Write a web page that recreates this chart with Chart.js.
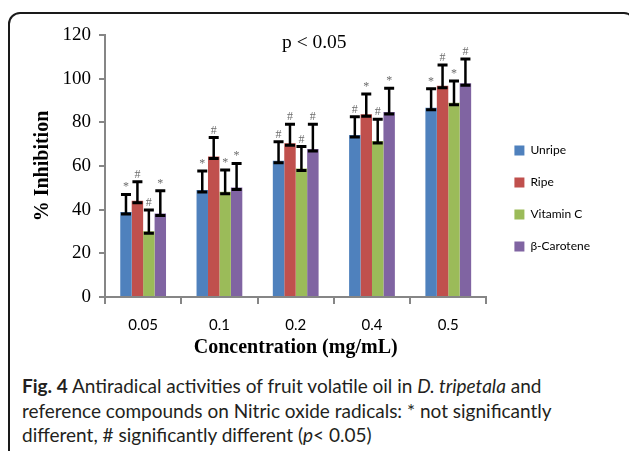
<!DOCTYPE html>
<html>
<head>
<meta charset="utf-8">
<script src="https://cdn.jsdelivr.net/npm/chart.js@4/dist/chart.umd.min.js"></script>
<style>
  html, body { margin: 0; padding: 0; background: #fff; width: 629px; height: 451px; overflow: hidden; }
  #frame { position: absolute; left: 8px; top: 12px; width: 624px; height: 470px; border: 2px solid #1a1a1a; border-radius: 12px; }
  #chart { position: absolute; left: 0; top: 0; }
  #ptext { position: absolute; left: 282px; top: 31px; font: 19.5px "Liberation Serif", serif; color: #000; }
  #caption { position: absolute; left: 22px; top: 374px; font: 19px Lato, sans-serif; line-height: 24.5px; color: #231f20; white-space: nowrap; }
</style>
</head>
<body>
<div id="frame"></div>
<canvas id="chart" width="629" height="366"></canvas>
<div id="ptext">p &lt; 0.05</div>
<div id="caption"><b>Fig. 4</b> Antiradical activities of fruit volatile oil in <i>D. tripetala</i> and<br>reference compounds on Nitric oxide radicals: * not significantly<br>different, # significantly different (<i>p</i>&lt; 0.05)</div>
<script>
const concentrations = ['0.05', '0.1', '0.2', '0.4', '0.5'];

const unripe = [38.9, 49.0, 62.4, 74.2, 86.7];
const ripe = [44.1, 64.3, 70.4, 83.7, 96.7];
const vitaminC = [30.1, 48.2, 58.9, 71.5, 89.0];
const carotene = [38.3, 50.2, 67.8, 84.7, 97.9];

const unripeErr = [8.1, 8.7, 8.7, 8.4, 8.7];
const ripeErr = [8.7, 8.7, 8.7, 9.3, 9.6];
const vitaminCErr = [9.7, 10.0, 10.0, 9.9, 9.9];
const caroteneErr = [10.4, 11.0, 11.3, 10.9, 11.1];

const unripeSig = ['*', '*', '#', '#', '*'];
const ripeSig = ['#', '#', '#', '*', '#'];
const vitaminCSig = ['#', '*', '#', '#', '*'];
const caroteneSig = ['*', '*', '#', '*', '#'];

const yTicks = [0, 20, 40, 60, 80, 100, 120];

const axisGray = '#868686';
const serif = '"Liberation Serif", "Times New Roman", serif';

// error bars + significance marks, drawn on top of the bars
const errorBars = {
    id: 'errorBars',
    afterDatasetsDraw(chart) {
        const ctx = chart.ctx;
        const y = chart.scales.y;
        chart.data.datasets.forEach((ds, i) => {
            const meta = chart.getDatasetMeta(i);
            meta.data.forEach((bar, j) => {
                const top = y.getPixelForValue(ds.data[j] + ds.err[j]);
                const base = bar.y + 2;
                const half = 5;
                ctx.save();
                ctx.strokeStyle = '#000';
                ctx.lineWidth = 2.5;
                ctx.beginPath();
                ctx.moveTo(bar.x, base);
                ctx.lineTo(bar.x, top);
                ctx.stroke();
                ctx.lineWidth = 3;
                ctx.beginPath();
                ctx.moveTo(bar.x - half, top);
                ctx.lineTo(bar.x + half, top);
                ctx.moveTo(bar.x - half, base);
                ctx.lineTo(bar.x + half, base);
                ctx.stroke();
                ctx.fillStyle = '#6d6d6d';
                ctx.font = '12px ' + serif;
                ctx.textAlign = 'center';
                ctx.textBaseline = 'alphabetic';
                ctx.fillText(ds.sig[j], bar.x, top - 4);
                ctx.restore();
            });
        });
    }
};

// nudge the legend box to where the original sits
const legendNudge = {
    id: 'legendNudge',
    afterLayout(chart) {
        const lg = chart.legend;
        const dx = chart.chartArea.right + 28 - lg.options.labels.padding - lg.left;
        lg.left += dx;
        lg.right += dx;
        lg.top += 1;
        lg.bottom += 1;
    }
};

new Chart(document.getElementById('chart'), {
    type: 'bar',
    data: {
        labels: concentrations,
        datasets: [
            { label: 'Unripe', data: unripe, err: unripeErr, sig: unripeSig, backgroundColor: '#4f81bd' },
            { label: 'Ripe', data: ripe, err: ripeErr, sig: ripeSig, backgroundColor: '#c0504d' },
            { label: 'Vitamin C', data: vitaminC, err: vitaminCErr, sig: vitaminCSig, backgroundColor: '#9bbb59' },
            { label: 'β-Carotene', data: carotene, err: caroteneErr, sig: caroteneSig, backgroundColor: '#8064a2' }
        ]
    },
    options: {
        responsive: false,
        animation: false,
        devicePixelRatio: 1,
        categoryPercentage: 0.6,
        barPercentage: 1.0,
        layout: { padding: { left: 25, top: 35, right: 37, bottom: 6 } },
        plugins: {
            tooltip: { enabled: false },
            legend: {
                position: 'right',
                align: 'center',
                labels: {
                    boxWidth: 10,
                    boxHeight: 10,
                    padding: 20,
                    color: '#000',
                    font: { family: 'Lato, sans-serif', size: 12 }
                }
            }
        },
        scales: {
            x: {
                offset: true,
                grid: { offset: true, drawOnChartArea: false, tickLength: 7, color: axisGray, lineWidth: 2 },
                border: { color: axisGray, width: 2 },
                ticks: { color: '#000', padding: 12, maxRotation: 0, font: { family: 'Lato, sans-serif', size: 15 } },
                title: { display: true, text: 'Concentration (mg/mL)', color: '#000', padding: { top: -10, bottom: 0 }, font: { family: serif, size: 20, weight: 'bold' } }
            },
            y: {
                min: 0,
                max: 120,
                afterBuildTicks: s => { s.ticks = yTicks.map(v => ({ value: v })); },
                afterFit: s => { s.width = 80; },
                grid: { drawOnChartArea: false, tickLength: 6, color: axisGray, lineWidth: 2 },
                border: { color: axisGray, width: 2 },
                ticks: { color: '#000', padding: 8, font: { family: serif, size: 19 } },
                title: { display: true, text: '% Inhibition', color: '#000', padding: { top: 6, bottom: 0 }, font: { family: serif, size: 20, weight: 'bold' } }
            }
        }
    },
    plugins: [errorBars, legendNudge]
});
</script>
</body>
</html>
